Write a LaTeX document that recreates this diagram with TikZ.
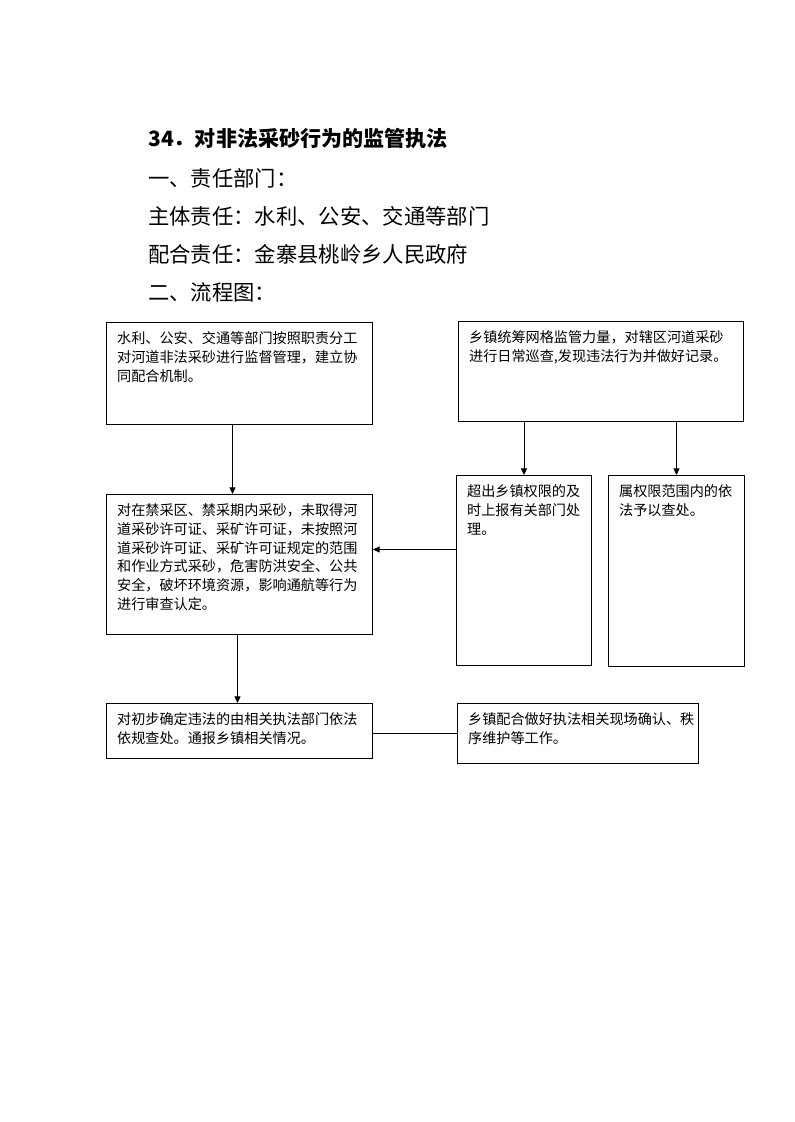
\documentclass[tikz,border=0pt]{standalone}
\usepackage{fontspec}
\setmainfont{Noto Sans CJK SC}
\usetikzlibrary{arrows.meta}
\begin{document}
\begin{tikzpicture}[x=0.75pt,y=-0.75pt,
  box/.style={draw, line width=0.75pt, anchor=north west, inner xsep=8pt, inner ysep=7pt,
    font=\fontsize{10.6}{14}\selectfont},
  arr/.style={line width=0.75pt, -{Triangle[length=5pt,width=4.5pt]}},
  link/.style={line width=0.75pt},
  head/.style={anchor=west, inner sep=0pt, font=\fontsize{16}{16}\selectfont},
  title/.style={anchor=west, inner sep=0pt, font=\fontsize{15.8}{16}\selectfont\bfseries}]
\useasboundingbox (0,0) rectangle (794,1122);

\node[title] (t0) at (148,138) {34．对非法采砂行为的监管执法};
\node[head] (t1) at (148,178) {一、责任部门：};
\node[head] (t2) at (148,216) {主体责任：水利、公安、交通等部门};
\node[head] (t3) at (148,254) {配合责任：金寨县桃岭乡人民政府};
\node[head] (t4) at (148,292) {二、流程图：};

\node[box] (b1) at (106,322) {\parbox[c][62.5pt][t]{183.5pt}{水利、公安、交通等部门按照职责分工\\对河道非法采砂进行监督管理，建立协\\同配合机制。}};
\node[box] (b2) at (458,321) {\parbox[c][61pt][t]{197.75pt}{乡镇统筹网格监管力量，对辖区河道采砂\\进行日常巡查,发现违法行为并做好记录。}};
\node[box] (b3) at (106,494) {\parbox[c][91pt][t]{183.5pt}{对在禁采区、禁采期内采砂，未取得河\\道采砂许可证、采矿许可证，未按照河\\道采砂许可证、采矿许可证规定的范围\\和作业方式采砂，危害防洪安全、公共\\安全，破坏环境资源，影响通航等行为\\进行审查认定。}};
\node[box] (b4) at (456,475) {\parbox[c][128.5pt][t]{85.25pt}{超出乡镇权限的及\\时上报有关部门处\\理。}};
\node[box] (b5) at (608,475) {\parbox[c][129.25pt][t]{86pt}{属权限范围内的依\\法予以查处。}};
\node[box] (b6) at (106,703) {\parbox[c][27.25pt][t]{183.5pt}{对初步确定违法的由相关执法部门依法\\依规查处。通报乡镇相关情况。}};
\node[box] (b7) at (457,703) {\parbox[c][31pt][t]{164.75pt}{乡镇配合做好执法相关现场确认、秩\\序维护等工作。}};

\draw[arr] ([xshift=-5.25pt]b1.south) -- ([xshift=-5.25pt]b1.south |- b3.north);
\draw[arr] (b4.north |- b2.south) -- (b4.north);
\draw[arr] (b5.north |- b2.south) -- (b5.north);
\draw[arr] ([yshift=15.75pt]b4.west) -- ([yshift=15.75pt]b4.west -| b3.east);
\draw[arr] ([xshift=-1.5pt]b3.south) -- ([xshift=-1.5pt]b3.south |- b6.north);
\draw[link] (b7.west -| b6.east) -- (b7.west);
\end{tikzpicture}
\end{document}
